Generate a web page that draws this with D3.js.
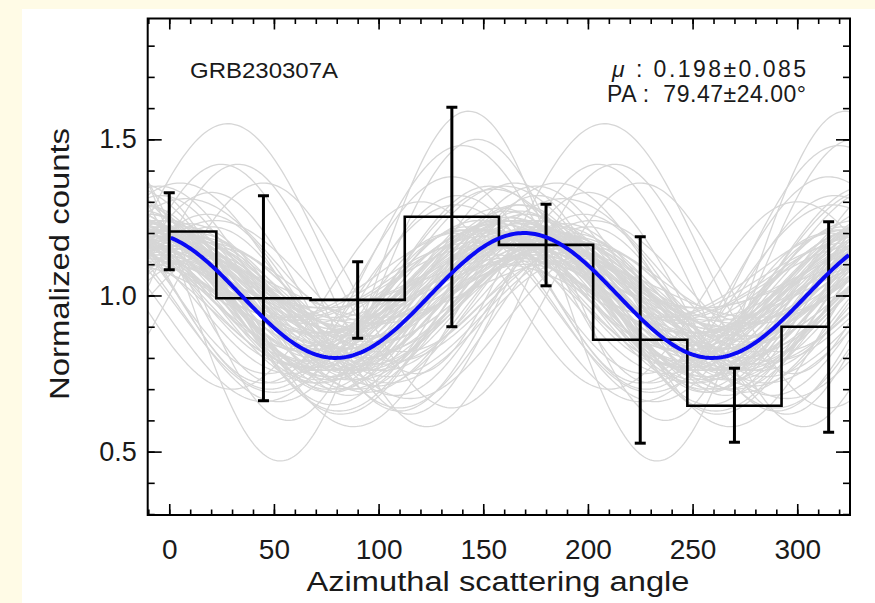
<!DOCTYPE html>
<html>
<head>
<meta charset="utf-8">
<script src="https://cdn.jsdelivr.net/npm/d3@7"></script>
<style>
  body { margin: 0; background: #fffbe6; }
  text { font-family: "Liberation Sans", Arial, sans-serif; fill: #1a1a1a; }
</style>
</head>
<body>
<div id="plot-area"></div>
<script>
// binned data (bin centres, normalized counts, error bars)
var binAngles = [0, 45, 90, 135, 180, 225, 270, 315]
var binCounts = [1.205, 0.991, 0.986, 1.252, 1.162, 0.858, 0.647, 0.900]
var binErrLow = [1.082, 0.663, 0.863, 0.900, 1.031, 0.527, 0.530, 0.562]
var binErrHigh = [1.329, 1.319, 1.108, 1.603, 1.292, 1.188, 0.767, 1.236]

// best fit modulation curve: norm + amp * cos(2 (phi - peak))
var fitNorm = 1.0
var fitAmp = 0.2
var fitPeak = 169.47

// posterior sample curves (gray)
var simNorm = [1.00,0.98,1.03,0.96,1.01,0.99,1.05,0.97,1.02,0.95,1.00,0.98,1.04,1.01,0.97,1.06,0.99,1.02,0.96,1.03,
               1.00,0.94,1.01,1.05,0.98,1.00,1.03,0.97,1.02,0.99,1.07,0.96,1.01,1.04,0.98,1.02,0.95,1.00,0.99,1.03,
               1.06,0.97,1.01,1.00,0.93,0.99,1.04,1.02,0.98,1.00,1.05,0.97,1.03,0.96,1.01,0.99,1.02,1.08,0.98,1.00,
               1.03,1.15,1.05,1.00,1.10,0.98,1.05,1.02,1.00,1.00,
               0.92,1.08,0.95,1.06,0.90,1.04,0.97,1.10,0.93,1.02,0.96,1.07,0.91,1.05,0.99,1.09,0.94,1.03,0.92,1.06,
               0.97,1.01,0.95,1.08,0.93,1.04,0.98,1.00,0.96,1.02,0.94,1.07,0.99,1.03,0.91,1.05,0.97,1.01,0.95,1.06]
var simAmp = [0.18,0.22,0.15,0.20,0.25,0.17,0.14,0.21,0.19,0.23,0.16,0.28,0.20,0.12,0.24,0.18,0.21,0.17,0.26,0.15,
              0.19,0.20,0.22,0.16,0.18,0.27,0.13,0.23,0.19,0.21,0.17,0.24,0.15,0.20,0.22,0.10,0.18,0.21,0.30,0.16,
              0.19,0.14,0.23,0.18,0.20,0.25,0.17,0.22,0.19,0.21,0.16,0.24,0.12,0.20,0.18,0.23,0.26,0.15,0.21,0.19,
              0.56,0.40,0.45,0.42,0.38,0.35,0.33,0.40,0.30,0.36,
              0.30,0.28,0.26,0.10,0.32,0.12,0.29,0.25,0.27,0.09,0.31,0.14,0.24,0.30,0.11,0.22,0.28,0.33,0.20,0.13,
              0.27,0.31,0.15,0.26,0.29,0.08,0.23,0.32,0.18,0.27,0.25,0.16,0.30,0.21,0.28,0.12,0.26,0.24,0.19,0.29]
var simPeak = [168,175,160,182,171,155,190,165,178,162,185,170,158,173,180,166,152,188,176,163,
               169,195,157,172,183,161,177,167,150,186,174,159,181,164,192,170,156,179,168,184,
               162,173,148,189,176,165,171,160,198,154,178,167,182,163,174,187,158,169,176,161,
               143,28,147,213,140,200,135,205,120,225,
               172,185,140,165,178,150,198,160,135,190,168,145,205,175,158,188,142,165,195,152,
               180,138,170,155,200,163,148,176,192,137,184,157,166,202,171,146,189,161,178,153]

var xTicks = [0, 50, 100, 150, 200, 250, 300]
var yTicks = [0.5, 1.0, 1.5]

function createPlot() {

    width = 875
    height = 603

    plotSVG = d3.select("#plot-area").append('svg')
        .attr('width', width)
        .attr('height', height)

    plotSVG.append('rect')
        .attr('x', 22).attr('y', 9)
        .attr('width', width - 22).attr('height', height - 9)
        .attr('fill', 'white')

    xScale = d3.scaleLinear()
        .domain([-10.3, 325.2])
        .range([147.7, 850])

    yScale = d3.scaleLinear()
        .domain([0.297, 1.887])
        .range([515, 18.5])

    plotSVG.append('clipPath').attr('id', 'clip')
        .append('rect')
        .attr('x', xScale.range()[0]).attr('y', yScale.range()[1])
        .attr('width', xScale.range()[1] - xScale.range()[0])
        .attr('height', yScale.range()[0] - yScale.range()[1])

    plotGroup = plotSVG.append('g').attr('clip-path', 'url(#clip)')

    var phis = d3.range(-10.3, 325.6, 1)
    var rad = Math.PI / 180

    var curveLine = d3.line()
        .x(function(d){ return xScale(d[0]) })
        .y(function(d){ return yScale(d[1]) })

    // gray sample curves
    simNorm.forEach(function(n, i) {
        var pts = phis.map(function(p){
            return [p, n + simAmp[i] * Math.cos(2 * (p - simPeak[i]) * rad)]
        })
        plotGroup.append('path')
            .attr('d', curveLine(pts))
            .attr('fill', 'none')
            .attr('stroke', '#d6d6d6')
            .attr('stroke-width', 1.3)
    })

    // step histogram
    var stepLine = d3.line()
        .x(function(d){ return xScale(d) })
        .y(function(d, i){ return yScale(binCounts[i]) })
        .curve(d3.curveStep)

    plotGroup.append('path')
        .attr('d', stepLine(binAngles))
        .attr('fill', 'none')
        .attr('stroke', 'black')
        .attr('stroke-width', 2.6)

    // error bars
    binAngles.forEach(function(a, i) {
        var x = xScale(a)
        plotGroup.append('line')
            .attr('x1', x).attr('x2', x)
            .attr('y1', yScale(binErrLow[i])).attr('y2', yScale(binErrHigh[i]))
            .attr('stroke', 'black').attr('stroke-width', 3)
        ;[binErrLow[i], binErrHigh[i]].forEach(function(v){
            plotGroup.append('line')
                .attr('x1', x - 5.5).attr('x2', x + 5.5)
                .attr('y1', yScale(v)).attr('y2', yScale(v))
                .attr('stroke', 'black').attr('stroke-width', 3)
        })
    })

    // best fit curve
    var fitPts = phis.map(function(p){
        return [p, fitNorm + fitAmp * Math.cos(2 * (p - fitPeak) * rad)]
    })
    plotGroup.append('path')
        .attr('d', curveLine(fitPts.filter(function(d){ return d[0] >= 0 })))
        .attr('fill', 'none')
        .attr('stroke', '#0a0af5')
        .attr('stroke-width', 4)

    // axes: major and minor ticks on all four sides
    var xMinor = d3.range(-10, 326, 10)
    var yMinor = d3.range(0.3, 1.89, 0.1)

    plotSVG.append('g')
        .attr('class', 'axis x-axis')
        .attr('transform', 'translate(0,' + yScale.range()[0] + ')')
        .call(d3.axisBottom(xScale).tickValues(xMinor).tickSize(-5.5).tickFormat(''))
    plotSVG.append('g')
        .attr('class', 'axis x-axis')
        .attr('transform', 'translate(0,' + yScale.range()[0] + ')')
        .call(d3.axisBottom(xScale).tickValues(xTicks).tickSize(-11).tickPadding(24)
            .tickFormat(d3.format('d')))
    plotSVG.append('g')
        .attr('transform', 'translate(0,' + yScale.range()[1] + ')')
        .call(d3.axisTop(xScale).tickValues(xMinor).tickSize(-5.5).tickFormat(''))
    plotSVG.append('g')
        .attr('transform', 'translate(0,' + yScale.range()[1] + ')')
        .call(d3.axisTop(xScale).tickValues(xTicks).tickSize(-11).tickFormat(''))

    plotSVG.append('g')
        .attr('transform', 'translate(' + xScale.range()[0] + ',0)')
        .call(d3.axisLeft(yScale).tickValues(yMinor).tickSize(-7).tickFormat(''))
    plotSVG.append('g')
        .attr('class', 'axis y-axis')
        .attr('transform', 'translate(' + xScale.range()[0] + ',0)')
        .call(d3.axisLeft(yScale).tickValues(yTicks).tickSize(-14).tickPadding(11)
            .tickFormat(d3.format('.1f')))
    plotSVG.append('g')
        .attr('transform', 'translate(' + xScale.range()[1] + ',0)')
        .call(d3.axisRight(yScale).tickValues(yMinor).tickSize(-7).tickFormat(''))
    plotSVG.append('g')
        .attr('transform', 'translate(' + xScale.range()[1] + ',0)')
        .call(d3.axisRight(yScale).tickValues(yTicks).tickSize(-14).tickFormat(''))

    plotSVG.selectAll('.domain').remove()
    plotSVG.selectAll('.tick line').attr('stroke', 'black').attr('stroke-width', 1.6)
    plotSVG.selectAll('.x-axis .tick text').attr('font-size', 28)
    plotSVG.selectAll('.y-axis .tick text').attr('font-size', 27)
    plotSVG.selectAll('.tick text').attr('fill', '#1a1a1a')
        .attr('font-family', '"Liberation Sans", Arial, sans-serif')

    // frame
    plotSVG.append('rect')
        .attr('x', xScale.range()[0]).attr('y', yScale.range()[1])
        .attr('width', xScale.range()[1] - xScale.range()[0])
        .attr('height', yScale.range()[0] - yScale.range()[1])
        .attr('fill', 'none')
        .attr('stroke', 'black')
        .attr('stroke-width', 2)

    // labels
    plotSVG.append('text')
        .attr('x', 498).attr('y', 591)
        .attr('text-anchor', 'middle')
        .attr('font-size', 27)
        .attr('textLength', 383).attr('lengthAdjust', 'spacingAndGlyphs')
        .text('Azimuthal scattering angle')

    plotSVG.append('text')
        .attr('transform', 'translate(69, 264) rotate(-90)')
        .attr('text-anchor', 'middle')
        .attr('font-size', 27)
        .attr('textLength', 272).attr('lengthAdjust', 'spacingAndGlyphs')
        .text('Normalized counts')

    plotSVG.append('text')
        .attr('x', 190).attr('y', 78)
        .attr('font-size', 22)
        .attr('textLength', 148).attr('lengthAdjust', 'spacingAndGlyphs')
        .text('GRB230307A')

    var mu = plotSVG.append('text')
        .attr('x', 612).attr('y', 77)
        .attr('font-size', 23)
        .attr('xml:space', 'preserve')
        .style('white-space', 'pre')
        .attr('textLength', 194).attr('lengthAdjust', 'spacing')
    mu.append('tspan').attr('font-style', 'italic').text('\u03bc')
    mu.append('tspan').text(' : 0.198\u00b10.085')

    plotSVG.append('text')
        .attr('x', 607).attr('y', 102)
        .attr('font-size', 23)
        .attr('textLength', 199).attr('lengthAdjust', 'spacing')
        .attr('xml:space', 'preserve')
        .style('white-space', 'pre')
        .text('PA :  79.47\u00b124.00\u00b0')
}

createPlot()
</script>
</body>
</html>
